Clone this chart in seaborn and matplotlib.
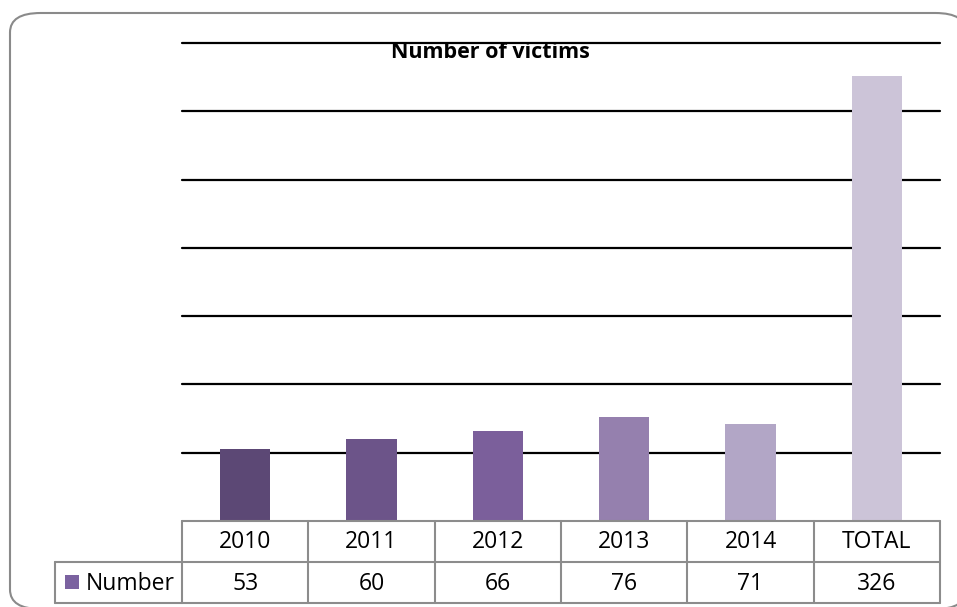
import matplotlib
matplotlib.use("Agg")
import matplotlib.pyplot as plt
import matplotlib.transforms as mtransforms
from matplotlib.patches import FancyBboxPatch, Rectangle
from matplotlib.lines import Line2D
import seaborn as sns
import pandas as pd

# ---- data ----
categories = ["2010", "2011", "2012", "2013", "2014", "TOTAL"]
values = [53, 60, 66, 76, 71, 326]
series_name = "Number"
title = "Number of victims"
bar_colors = ["#5C4875", "#6C5489", "#7B5F9B", "#9580AE", "#B2A6C6", "#CCC4D8"]
legend_color = "#7B62A0"
y_ticks = [50, 100, 150, 200, 250, 300, 350]

sns.set_theme(style="white")
plt.rcParams["font.family"] = ["Open Sans", "DejaVu Sans"]

W, H = 957, 607
fig = plt.figure(figsize=(W / 100, H / 100), dpi=100)


def fx(x):
    return x / W


def fy(y):
    return 1 - y / H


# rounded outer frame (partly off-canvas, like the reference)
frame = FancyBboxPatch((fx(10), fy(609)), fx(966) - fx(10), fy(13) - fy(609),
                       boxstyle="round,pad=0,rounding_size=0.032",
                       transform=fig.transFigure, facecolor="white",
                       edgecolor="#8a8a8a", linewidth=1.5, zorder=0)
fig.add_artist(frame)

# plot area
ax_left, ax_right, ax_top, ax_bottom = 182, 940, 43, 521
ax = fig.add_axes([fx(ax_left), fy(ax_bottom), fx(ax_right) - fx(ax_left),
                   fy(ax_top) - fy(ax_bottom)])
ax.patch.set_alpha(0)

df = pd.DataFrame({"cat": categories, "val": values})
sns.barplot(data=df, x="cat", y="val", hue="cat", palette=bar_colors,
            legend=False, width=0.4, saturation=1, linewidth=0, ax=ax, zorder=3)

ax.set_xlim(-0.5, len(categories) - 0.5)
ax.set_ylim(0, 350)
ax.set_yticks(y_ticks)
ax.set_yticklabels([])
ax.set_xticks([])
ax.set_xlabel("")
ax.set_ylabel("")
ax.tick_params(left=False, bottom=False)
for s in ax.spines.values():
    s.set_visible(False)
ax.yaxis.grid(True, color="black", linewidth=1.6)
ax.set_axisbelow(True)
for gl in ax.get_ygridlines():
    gl.set_clip_on(False)

# title
fig.text(fx(490), fy(53), title, ha="center", va="center",
         fontsize=15.5, fontweight="bold", color="black")

# data table
blend = mtransforms.blended_transform_factory(ax.transData, fig.transFigure)
t_top, t_mid, t_bot = 521, 562, 603
line_kw = dict(color="#8c8c8c", linewidth=1.5, clip_on=False, zorder=5)
n = len(categories)
for yy in (t_top, t_mid, t_bot):
    ax.plot([-0.5, n - 0.5], [fy(yy), fy(yy)], transform=blend, **line_kw)
for i in range(n + 1):
    ax.plot([i - 0.5, i - 0.5], [fy(t_top), fy(t_bot)], transform=blend, **line_kw)
# legend cell
leg_left = 55
for yy in (t_mid, t_bot):
    fig.add_artist(Line2D([fx(leg_left), fx(ax_left)], [fy(yy), fy(yy)],
                          transform=fig.transFigure, color="#8c8c8c", linewidth=1.5))
fig.add_artist(Line2D([fx(leg_left), fx(leg_left)], [fy(t_mid), fy(t_bot)],
                      transform=fig.transFigure, color="#8c8c8c", linewidth=1.5))
fig.add_artist(Rectangle((fx(65), fy(589)), fx(14), fy(575) - fy(589),
                         transform=fig.transFigure, facecolor=legend_color,
                         edgecolor="none"))
fig.text(fx(86), fy((t_mid + t_bot) / 2 + 1), series_name, ha="left", va="center",
         fontsize=16.5, color="black")

for i, (c, v) in enumerate(zip(categories, values)):
    ax.text(i, fy((t_top + t_mid) / 2 + 1), c, transform=blend, ha="center",
            va="center", fontsize=16.5, color="black")
    ax.text(i, fy((t_mid + t_bot) / 2 + 1), str(v), transform=blend, ha="center",
            va="center", fontsize=16.5, color="black")

fig.savefig("out.png", dpi=100)
